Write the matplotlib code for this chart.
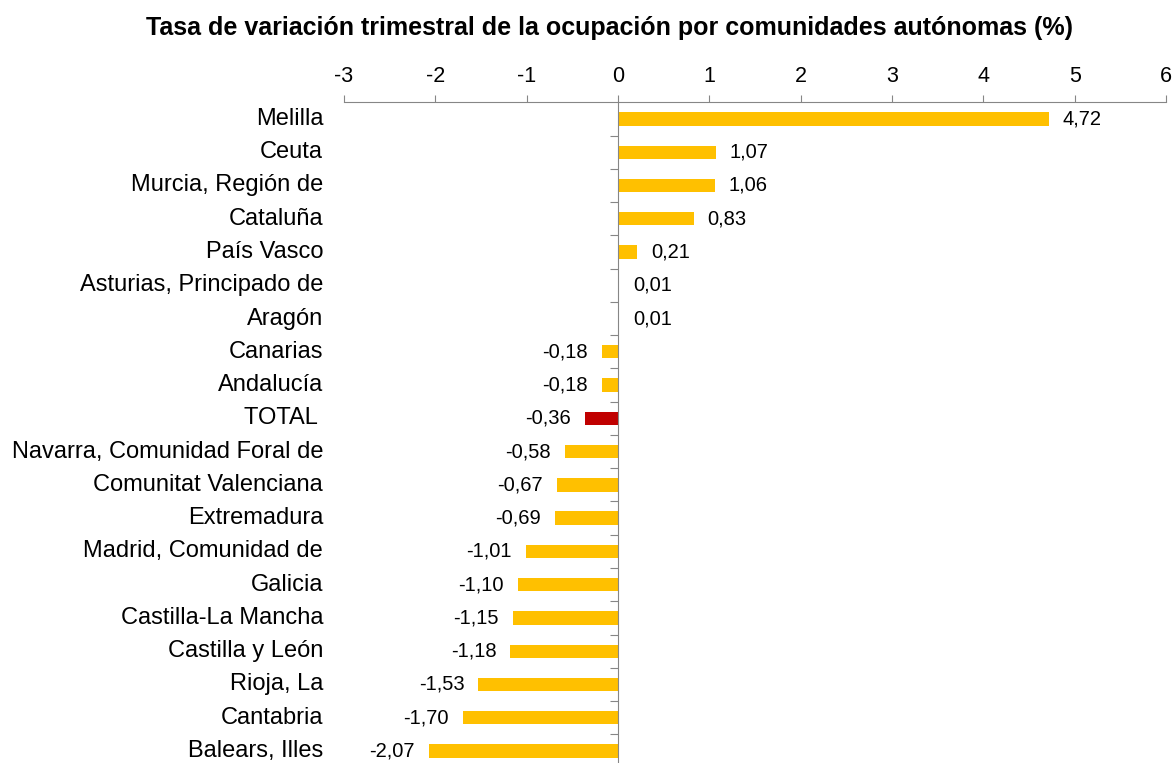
import numpy as np
import matplotlib.pyplot as plt
from matplotlib.transforms import blended_transform_factory

plt.rcParams['font.family'] = ['Liberation Sans', 'DejaVu Sans']

# datos: tasa de variacion trimestral de la ocupacion (%)
comunidades = ["Melilla", "Ceuta", "Murcia, Región de", "Cataluña", "País Vasco",
               "Asturias, Principado de", "Aragón", "Canarias", "Andalucía", "TOTAL ",
               "Navarra, Comunidad Foral de", "Comunitat Valenciana", "Extremadura",
               "Madrid, Comunidad de", "Galicia", "Castilla-La Mancha",
               "Castilla y León", "Rioja, La", "Cantabria", "Balears, Illes"]
tasas = [4.72, 1.07, 1.06, 0.83, 0.21, 0.01, 0.01, -0.18, -0.18, -0.36,
         -0.58, -0.67, -0.69, -1.01, -1.10, -1.15, -1.18, -1.53, -1.70, -2.07]
xticks = [-3, -2, -1, 0, 1, 2, 3, 4, 5, 6]

amarillo = '#FFC000'
rojo = '#C00000'
gris = '#868686'

fig = plt.figure(figsize=(11.76, 7.63), dpi=100)
top_px, bot_px = 102.3, 767.6
ax = fig.add_axes([344 / 1176, 1 - bot_px / 763, (1166 - 344) / 1176, (bot_px - top_px) / 763])

y = np.arange(len(comunidades))
colores = [rojo if c.strip() == 'TOTAL' else amarillo for c in comunidades]
ax.barh(y, tasas, height=0.4, color=colores)

ax.set_xlim(-3, 6)
ax.set_ylim(len(comunidades) - 0.5, -0.5)

# eje x arriba
ax.xaxis.tick_top()
ax.set_xticks(xticks)
ax.set_xticklabels([str(t) for t in xticks], fontsize=15.5)
ax.tick_params(axis='x', direction='out', length=5, color=gris, pad=6)

# eje y en el cero, con marcas entre categorias
ax.spines['left'].set_position(('data', 0))
ax.spines['left'].set_color(gris)
ax.spines['top'].set_color(gris)
ax.spines['right'].set_visible(False)
ax.spines['bottom'].set_visible(False)
ax.set_yticks(np.arange(len(comunidades)) + 0.5)
ax.set_yticklabels([])
ax.tick_params(axis='y', direction='out', length=6, color=gris)

# nombres de comunidades a la izquierda
trans = blended_transform_factory(ax.transAxes, ax.transData)
for yi, nombre in zip(y, comunidades):
    ax.annotate(nombre, xy=(0, yi), xycoords=trans, xytext=(-15, 0),
                textcoords='offset points', ha='right', va='center', fontsize=17)

# etiquetas de valor
for yi, v in zip(y, tasas):
    txt = f"{v:.2f}".replace('.', ',')
    if v >= 0:
        ax.annotate(txt, xy=(v, yi), xytext=(10, 0), textcoords='offset points',
                    ha='left', va='center', fontsize=14.5)
    else:
        ax.annotate(txt, xy=(v, yi), xytext=(-10, 0), textcoords='offset points',
                    ha='right', va='center', fontsize=14.5)

fig.text(609 / 1176, 1 - 28 / 763,
         "Tasa de variación trimestral de la ocupación por comunidades autónomas (%)",
         ha='center', va='center', fontsize=18, fontweight='bold')

fig.savefig('out.png', dpi=100)
